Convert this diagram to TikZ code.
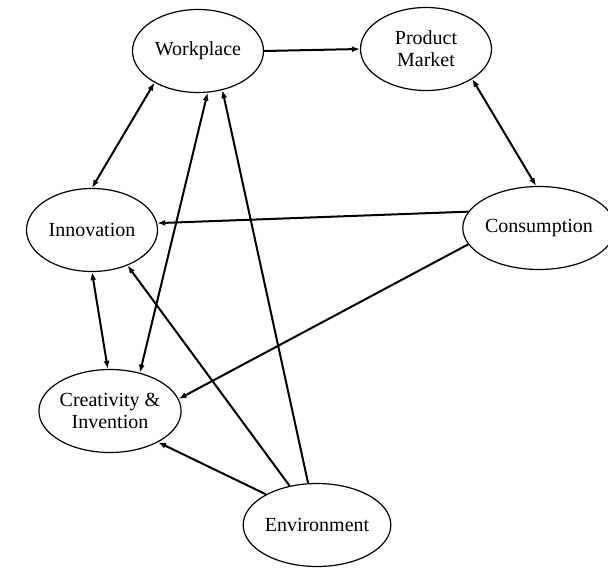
\documentclass[tikz,border=0pt]{standalone}
\usepackage{fontspec}
\setmainfont{Liberation Serif}
\usetikzlibrary{shapes.geometric,arrows.meta}
\begin{document}
\begin{tikzpicture}[x=1pt,y=-1pt,
  blob/.style={ellipse,draw,line width=1.2pt,minimum width=131pt,minimum height=83pt,inner sep=0pt,align=center,font=\fontsize{20}{22}\selectfont},
  link/.style={line width=2pt,-{Latex[length=8pt,width=6pt]}},
  link2/.style={line width=2pt,{Latex[length=8pt,width=6pt]}-{Latex[length=8pt,width=6pt]}}]
\useasboundingbox (0,0) rectangle (608,571);
\node[blob] (wp) at (198,51) {Workplace};
\node[blob] (pm) at (426,49) {Product\\Market};
\node[blob] (inn) at (92,230) {Innovation};
\node[blob] (con) at (539,228) {Consumption};
\node[blob] (cre) at (110,411) {Creativity \&\\Invention};
\node[blob] (env) at (317,525) {Environment};
\draw[link] (wp.east) -- (pm.west);
\draw[link2] (pm.-33) -- (con.94);
\draw[link2] (wp.-144) -- (inn.90);
\draw[link] (con.167) -- (inn.6);
\draw[link2] (inn.-90) -- (cre.93);
\draw[link2] (wp.-77) -- (cre.52);
\draw[link] (con.193) -- (cre.10);
\draw[link] (env.125) -- (inn.-45);
\draw[link] (env.102) -- (wp.-58);
\draw[link] (env.149) -- (cre.-33);
\end{tikzpicture}
\end{document}
